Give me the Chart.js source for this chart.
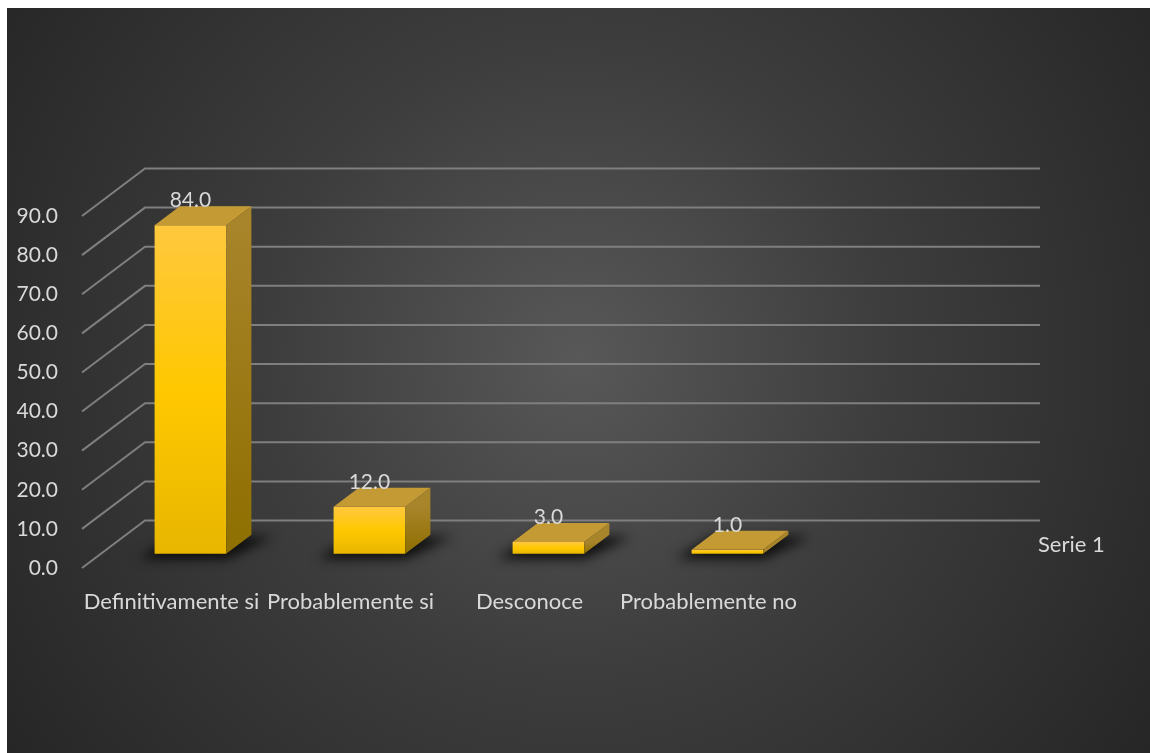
<!DOCTYPE html>
<html lang="es">
<head>
<meta charset="utf-8">
<title>Serie 1</title>
<script src="https://cdn.jsdelivr.net/npm/chart.js@4.4.1/dist/chart.umd.min.js"></script>
<style>
  html, body { margin: 0; padding: 0; background: #fff; }
  #wrap {
    position: absolute; left: 7px; top: 8px; width: 1143px; height: 745px;
    background: radial-gradient(circle farthest-corner at 50% 47%, #585858 0%, #3d3d3d 45%, #262626 100%);
  }
</style>
</head>
<body>
<div id="wrap"><canvas id="chart"></canvas></div>
<script>
// ─── Data ───
const categories = ['Definitivamente si', 'Probablemente si', 'Desconoce', 'Probablemente no', ''];
const serie1 = [84, 12, 3, 1, null];
const seriesName = 'Serie 1';
const yTickValues = [0, 10, 20, 30, 40, 50, 60, 70, 80, 90];

// ─── 3D look ───
const DX = 63;          // floor depth, horizontal
const DY = -47.5;       // floor depth, vertical
const BAR_FRONT = 0.3;  // bars sit between 30% and 70% of the floor depth
const BAR_DEPTH = 0.4;
const TEXT = '#d9d9d9';
const FONT = 'Lato, "Liberation Sans", sans-serif';
const NUM_SIZE = 21;
const LABEL_SIZE = 22;

function frontFill(c) {
  const { chart, raw } = c;
  const y = chart.scales && chart.scales.y;
  if (!y || raw == null) return '#ffc800';
  const top = y.getPixelForValue(raw);
  const bottom = y.getPixelForValue(0);
  if (!Number.isFinite(top) || !Number.isFinite(bottom) || top === bottom) return '#ffc800';
  const g = chart.ctx.createLinearGradient(0, top, 0, bottom);
  g.addColorStop(0, '#ffc83e');
  g.addColorStop(0.5, '#ffc800');
  g.addColorStop(1, '#e8b600');
  return g;
}

const box3d = {
  id: 'box3d',
  beforeDatasetsDraw(chart) {
    const { ctx, chartArea: a, scales: { y } } = chart;
    ctx.save();
    // walls: diagonal on the side + line along the back
    ctx.strokeStyle = '#7f7f7f';
    ctx.lineWidth = 2;
    yTickValues.forEach(v => {
      const py = y.getPixelForValue(v);
      ctx.beginPath();
      ctx.moveTo(a.left, py);
      ctx.lineTo(a.left + DX, py + DY);
      ctx.lineTo(a.right + DX, py + DY);
      ctx.stroke();
    });

    // soft shadow under each bar
    const fx = BAR_FRONT * DX, fy = BAR_FRONT * DY;
    const bx = BAR_DEPTH * DX, by = BAR_DEPTH * DY;
    ctx.filter = 'blur(6px)';
    ctx.fillStyle = 'rgba(0,0,0,0.8)';
    chart.getDatasetMeta(0).data.forEach((bar, i) => {
      if (serie1[i] == null) return;
      const l = bar.x - bar.width / 2 + fx;
      const r = bar.x + bar.width / 2 + fx;
      const b = bar.base + fy;
      ctx.beginPath();
      ctx.moveTo(l - 16, b + 5);
      ctx.lineTo(r, b + 5);
      ctx.lineTo(r + bx + 22, b + by + 2);
      ctx.lineTo(l + bx - 4, b + by + 2);
      ctx.closePath();
      ctx.fill();
    });
    ctx.restore();

    // front faces are drawn by the bar controller, pushed into the floor
    ctx.save();
    ctx.translate(fx, fy);
  },
  afterDatasetsDraw(chart) {
    const { ctx, chartArea: a } = chart;
    ctx.restore();
    const fx = BAR_FRONT * DX, fy = BAR_FRONT * DY;
    const bx = BAR_DEPTH * DX, by = BAR_DEPTH * DY;

    ctx.save();
    chart.getDatasetMeta(0).data.forEach((bar, i) => {
      if (serie1[i] == null) return;
      const l = bar.x - bar.width / 2 + fx;
      const r = bar.x + bar.width / 2 + fx;
      const t = bar.y + fy;
      const b = bar.base + fy;

      // side face
      const side = ctx.createLinearGradient(0, t, 0, b);
      side.addColorStop(0, '#a8842a');
      side.addColorStop(1, '#8e6f00');
      ctx.fillStyle = side;
      ctx.beginPath();
      ctx.moveTo(r, t);
      ctx.lineTo(r + bx, t + by);
      ctx.lineTo(r + bx, b + by);
      ctx.lineTo(r, b);
      ctx.closePath();
      ctx.fill();

      // top face
      ctx.fillStyle = '#c49a34';
      ctx.beginPath();
      ctx.moveTo(l, t);
      ctx.lineTo(l + bx, t + by);
      ctx.lineTo(r + bx, t + by);
      ctx.lineTo(r, t);
      ctx.closePath();
      ctx.fill();

      // value label
      ctx.fillStyle = TEXT;
      ctx.font = NUM_SIZE + 'px ' + FONT;
      ctx.textAlign = 'center';
      ctx.textBaseline = 'alphabetic';
      ctx.fillText(serie1[i].toFixed(1), bar.x + fx, t + by + 1);
    });

    // depth axis label
    ctx.fillStyle = TEXT;
    ctx.font = LABEL_SIZE + 'px ' + FONT;
    ctx.textAlign = 'left';
    ctx.textBaseline = 'middle';
    ctx.fillText(seriesName, a.right + 61, a.bottom + 0.5 * DY + 1);
    ctx.restore();
  }
};

new Chart(document.getElementById('chart'), {
  type: 'bar',
  data: {
    labels: categories,
    datasets: [{
      label: seriesName,
      data: serie1,
      clip: false,
      borderWidth: 0,
      categoryPercentage: 1,
      barPercentage: 0.4,
      backgroundColor: frontFill
    }]
  },
  options: {
    responsive: true,
    maintainAspectRatio: false,
    animation: false,
    layout: { padding: { left: 0, right: 173, top: 208, bottom: 125 } },
    plugins: {
      legend: { display: false },
      tooltip: { enabled: false }
    },
    scales: {
      x: {
        offset: true,
        grid: { display: false, drawTicks: false },
        border: { display: false },
        ticks: {
          color: TEXT,
          font: { family: FONT, size: LABEL_SIZE },
          padding: 21,
          maxRotation: 0,
          autoSkip: false
        },
        afterFit(s) { s.height = 60; }
      },
      y: {
        min: 0,
        max: 90,
        grid: { display: false, drawTicks: false },
        border: { display: false },
        ticks: {
          stepSize: 10,
          color: TEXT,
          font: { family: FONT, size: NUM_SIZE },
          padding: 24,
          callback: v => v.toFixed(1)
        },
        afterFit(s) { s.width = 75; }
      }
    }
  },
  plugins: [box3d]
});
</script>
</body>
</html>
